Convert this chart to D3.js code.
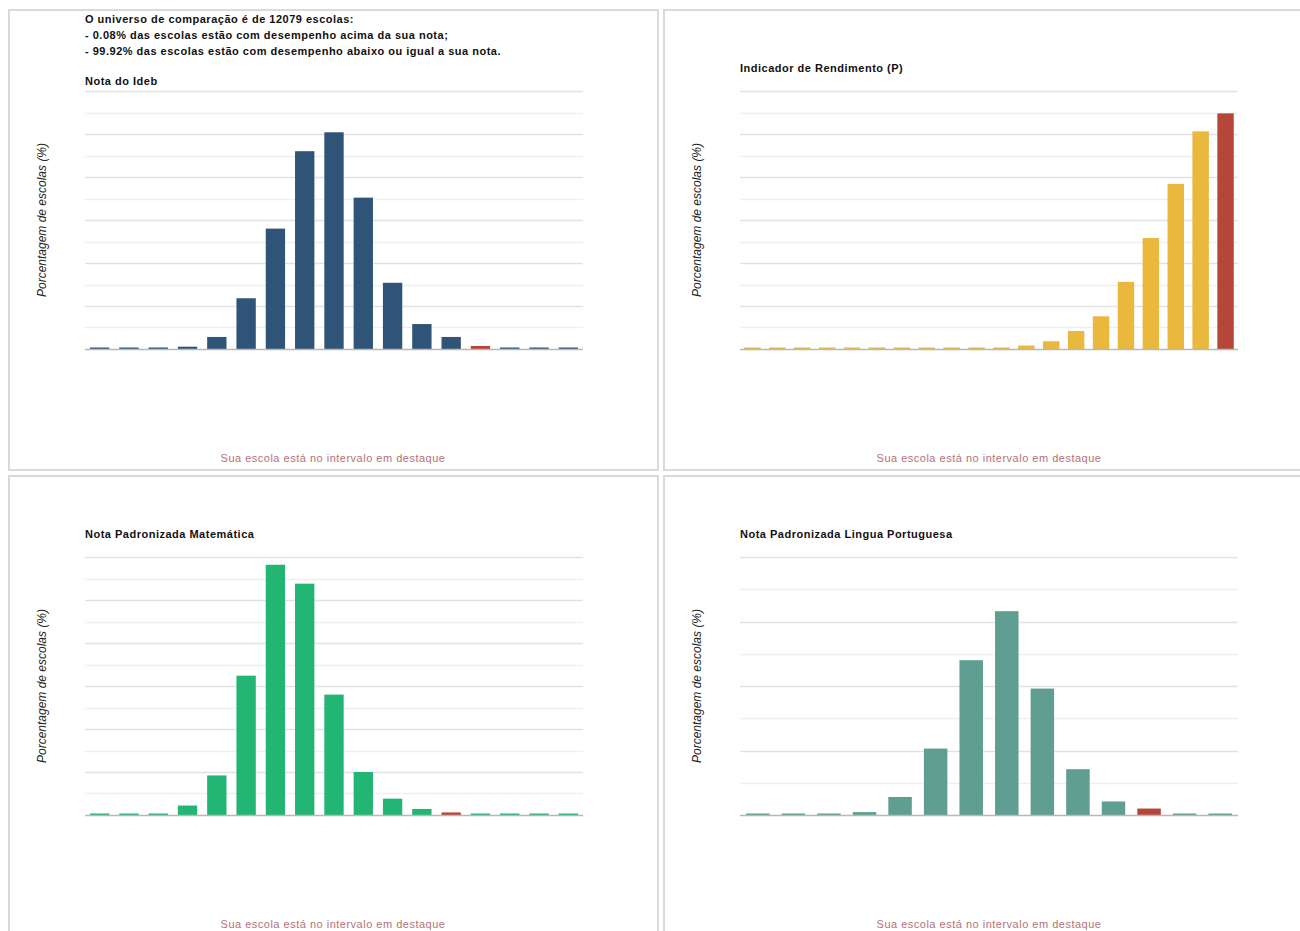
<!DOCTYPE html>
<html>
<head>
<meta charset="utf-8">
<script src="https://cdn.jsdelivr.net/npm/d3@7"></script>
<style>
  body { margin: 0; background: #fff; }
  svg { display: block; font-family: Arial, "Liberation Sans", sans-serif; }
</style>
</head>
<body>
<svg id="chart" width="1300" height="931"></svg>
<script>
// percentages of schools per score interval
const idebValues = [0.15, 0.15, 0.1, 0.27, 1.4, 5.9, 14.0, 23.0, 25.2, 17.6, 7.7, 2.9, 1.4, 0.35, 0.03, 0.02, 0.03];
const rendimentoValues = [0.1, 0.1, 0.1, 0.1, 0.1, 0.1, 0.1, 0.1, 0.1, 0.1, 0.1, 0.4, 0.9, 2.1, 3.8, 7.8, 12.9, 19.2, 25.3, 27.4];
const matematicaValues = [0.15, 0.1, 0.15, 1.1, 4.6, 16.2, 29.1, 26.9, 14.0, 5.0, 1.9, 0.7, 0.3, 0.1, 0.1, 0.1, 0.1];
const portuguesValues = [0.1, 0.1, 0.15, 0.45, 2.8, 10.3, 24.0, 31.6, 19.6, 7.1, 2.1, 1.0, 0.15, 0.15];

// interval where the school sits (highlighted in red)
const idebHighlight = 13;
const rendimentoHighlight = 19;
const matematicaHighlight = 12;
const portuguesHighlight = 11;

const infoLines = [
  "O universo de comparação é de 12079 escolas:",
  "- 0.08% das escolas estão com desempenho acima da sua nota;",
  "- 99.92% das escolas estão com desempenho abaixo ou igual a sua nota."
];
const titles = ["Nota do Ideb", "Indicador de Rendimento (P)", "Nota Padronizada Matemática", "Nota Padronizada Lingua Portuguesa"];
const yLabel = "Porcentagem de escolas (%)";
const footer = "Sua escola está no intervalo em destaque";

const svg = d3.select("#chart");

// panel frames
const panels = [
  { x: 9, y: 10, w: 649, h: 460 },
  { x: 664, y: 10, w: 650, h: 460 },
  { x: 9, y: 476, w: 649, h: 480 },
  { x: 664, y: 476, w: 650, h: 480 }
];
svg.selectAll("rect.panel")
  .data(panels)
  .enter().append("rect")
  .attr("class", "panel")
  .attr("x", d => d.x).attr("y", d => d.y)
  .attr("width", d => d.w).attr("height", d => d.h)
  .attr("fill", "none")
  .attr("stroke", "#dadada")
  .attr("stroke-width", 2);

// info text
svg.append("g").selectAll("text")
  .data(infoLines)
  .enter().append("text")
  .attr("x", 85)
  .attr("y", (d, i) => 23 + i * 16)
  .attr("font-size", 11)
  .attr("font-weight", "bold")
  .attr("letter-spacing", 0.5)
  .attr("fill", "#111")
  .text(d => d);

const charts = [
  { values: idebValues, hi: idebHighlight, color: "#2f5477", x0: 85, x1: 583, top: 91, base: 349, max: 30, step: 2.5,
    title: titles[0], titleY: 85, labelX: 46, footerX: 333, footerY: 462 },
  { values: rendimentoValues, hi: rendimentoHighlight, color: "#e9b83d", x0: 740, x1: 1238, top: 91, base: 349, max: 30, step: 2.5,
    title: titles[1], titleY: 72, labelX: 701, footerX: 989, footerY: 462 },
  { values: matematicaValues, hi: matematicaHighlight, color: "#22b573", x0: 85, x1: 583, top: 557, base: 815, max: 30, step: 2.5,
    title: titles[2], titleY: 538, labelX: 46, footerX: 333, footerY: 928 },
  { values: portuguesValues, hi: portuguesHighlight, color: "#5f9e91", x0: 740, x1: 1238, top: 557, base: 815, max: 40, step: 5,
    title: titles[3], titleY: 538, labelX: 701, footerX: 989, footerY: 928 }
];

charts.forEach(c => drawChart(c));

function drawChart(c) {
  const g = svg.append("g");
  const x = d3.scaleBand()
    .domain(d3.range(c.values.length))
    .range([c.x0, c.x1])
    .paddingInner(0.34)
    .paddingOuter(0.17);
  const y = d3.scaleLinear().domain([0, c.max]).range([c.base, c.top]);

  // gridlines, major every second one
  const ticks = d3.range(c.step, c.max + c.step / 2, c.step);
  g.selectAll("line.grid")
    .data(ticks)
    .enter().append("line")
    .attr("x1", c.x0).attr("x2", c.x1)
    .attr("y1", d => Math.round(y(d)) + 0.5).attr("y2", d => Math.round(y(d)) + 0.5)
    .attr("stroke", (d, i) => i % 2 === 1 ? "#e2e2e2" : "#efefef")
    .attr("stroke-width", 1.5);

  g.selectAll("rect.bar")
    .data(c.values)
    .enter().append("rect")
    .attr("x", (d, i) => x(i))
    .attr("width", x.bandwidth())
    .attr("y", d => Math.min(y(d), c.base - 1.5))
    .attr("height", d => Math.max(c.base - y(d), 1.5))
    .attr("fill", (d, i) => i === c.hi ? "#b5473a" : c.color);

  // baseline
  g.append("line")
    .attr("x1", c.x0).attr("x2", c.x1)
    .attr("y1", c.base + 0.5).attr("y2", c.base + 0.5)
    .attr("stroke", "#b8b8b8")
    .attr("stroke-width", 1.5);

  g.append("text")
    .attr("x", c.x0)
    .attr("y", c.titleY)
    .attr("font-size", 11)
    .attr("font-weight", "bold")
    .attr("letter-spacing", 0.5)
    .attr("fill", "#111")
    .text(c.title);

  g.append("text")
    .attr("transform", `translate(${c.labelX},${(c.top + c.base) / 2}) rotate(-90)`)
    .attr("text-anchor", "middle")
    .attr("font-size", 12)
    .attr("font-style", "italic")
    .attr("fill", "#222")
    .text(yLabel);

  g.append("text")
    .attr("x", c.footerX)
    .attr("y", c.footerY)
    .attr("text-anchor", "middle")
    .attr("font-size", 11)
    .attr("letter-spacing", 0.5)
    .attr("fill", "#b86f78")
    .text(footer);
}
</script>
</body>
</html>
